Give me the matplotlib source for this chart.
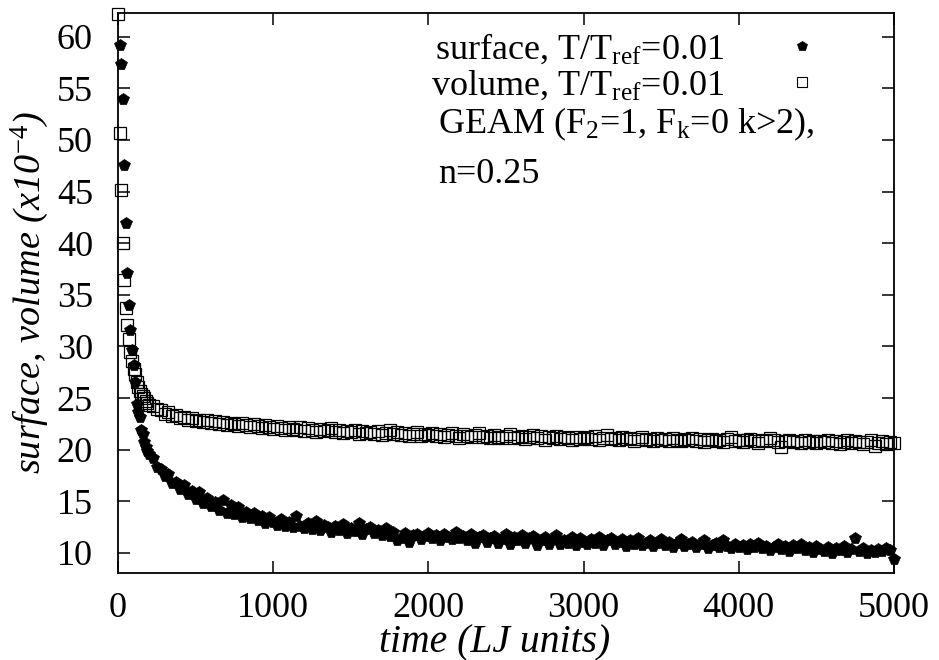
import numpy as np
import matplotlib
matplotlib.use("Agg")
import matplotlib.pyplot as plt
from matplotlib.lines import Line2D

plt.rcParams['font.family'] = ['Liberation Serif', 'DejaVu Serif']
plt.rcParams['mathtext.fontset'] = 'custom'
plt.rcParams['mathtext.rm'] = 'Liberation Serif'
plt.rcParams['mathtext.it'] = 'Liberation Serif:italic'
plt.rcParams['mathtext.bf'] = 'Liberation Serif:bold'

# time grid (LJ units): fine sampling during the fast initial drop, coarser afterwards
time_early = np.arange(0, 201, 10)
time_late = np.arange(225, 5001, 25)
time = np.concatenate([time_early, time_late])

# surface (x1e-4), T/Tref = 0.01
surface_early = [np.nan, 59.2, 57.4, 54.0, 47.6, 42.0, 37.1, 34.0, 31.6, 29.7,
                 28.2, 26.6, 24.4, 23.6, 23.2, 21.9, 21.5, 20.7, 20.3, 19.9, 19.6]
surface_late = [
    19.2, 18.3, 18.1, 17.4, 17.6, 16.8, 16.9, 16.2,
    16.6, 15.7, 16.0, 15.2, 15.9, 14.8, 15.3, 14.5,
    14.9, 14.2, 15.1, 13.9, 14.6, 13.8, 14.4, 13.5,
    14.0, 13.4, 13.9, 13.2, 13.6, 12.9, 13.5, 13.0,
    12.7, 13.3, 12.6, 13.0, 12.5, 13.6, 12.6, 12.4,
    12.9, 12.3, 13.1, 12.2, 12.7, 12.5, 12.0, 12.6,
    12.2, 12.8, 11.9, 12.4, 12.1, 12.9, 11.8, 12.3,
    12.5, 11.9, 12.2, 11.7, 12.4, 11.6, 12.0, 11.2,
    11.4, 11.9, 11.1, 11.7, 11.8, 11.3, 11.6, 11.9,
    11.4, 11.7, 11.2, 11.8, 11.5, 11.3, 12.0, 11.4,
    11.6, 11.2, 11.8, 11.0, 11.5, 11.7, 11.1, 11.4,
    11.6, 11.0, 11.3, 11.8, 10.9, 11.5, 11.2, 11.7,
    11.0, 11.4, 11.6, 10.8, 11.2, 11.5, 10.9, 11.3,
    11.7, 10.9, 11.2, 11.0, 11.5, 10.8, 11.4, 11.1,
    10.9, 11.3, 11.0, 11.5, 10.8, 11.2, 11.4, 10.9,
    11.1, 11.3, 10.7, 11.2, 10.9, 11.4, 10.8, 11.0,
    11.2, 10.7, 11.0, 11.3, 10.8, 11.1, 10.6, 11.0,
    11.3, 10.7, 10.9, 11.1, 10.6, 10.9, 11.2, 10.5,
    10.8, 11.0, 10.6, 11.2, 10.7, 10.5, 10.9, 10.6,
    10.8, 10.4, 10.9, 10.6, 11.0, 10.5, 10.7, 10.3,
    10.6, 10.9, 10.4, 10.7, 10.2, 10.8, 10.5, 10.9,
    10.3, 10.6, 10.1, 10.7, 10.4, 10.2, 10.6, 10.0,
    10.5, 10.3, 10.7, 10.1, 10.4, 11.4, 10.2, 10.5,
    10.0, 10.3, 10.1, 10.4, 10.2, 10.5, 10.3, 9.4,
]

# volume (x1e-4), T/Tref = 0.01
volume_early = [62.2, 50.7, 45.2, 40.0, 36.4, 33.7, 32.1, 30.7, 29.5, 28.6,
                27.8, 27.3, 26.6, 26.1, 25.7, 25.4, 25.2, 25.0, 24.7, 24.5, 24.3]
volume_late = [
    24.2, 23.9, 23.8, 23.5, 23.6, 23.3, 23.4, 23.1,
    23.2, 22.9, 23.1, 22.8, 22.9, 22.7, 22.9, 22.6,
    22.8, 22.5, 22.7, 22.4, 22.6, 22.5, 22.3, 22.6,
    22.4, 22.2, 22.5, 22.3, 22.1, 22.4, 22.2, 22.0,
    22.3, 22.1, 21.9, 22.2, 22.0, 21.9, 22.2, 21.8,
    22.1, 21.9, 21.7, 22.0, 21.8, 21.9, 22.1, 21.7,
    21.9, 21.6, 21.8, 21.7, 21.9, 21.5, 21.8, 21.6,
    21.7, 21.5, 21.8, 21.4, 21.6, 21.9, 21.5, 21.7,
    21.4, 21.6, 21.3, 21.5, 21.7, 21.3, 21.5, 21.4,
    21.6, 21.3, 21.5, 21.2, 21.4, 21.6, 21.3, 21.1,
    21.5, 21.3, 21.2, 21.4, 21.6, 21.2, 21.3, 21.1,
    21.4, 21.2, 21.1, 21.3, 21.5, 21.1, 21.2, 21.3,
    21.0, 21.2, 21.4, 21.1, 21.3, 20.9, 21.2, 21.1,
    21.3, 21.0, 21.2, 21.1, 20.9, 21.2, 21.0, 21.1,
    21.2, 21.0, 21.3, 20.9, 21.1, 21.4, 21.0, 21.1,
    20.9, 21.2, 21.0, 21.1, 20.8, 21.0, 21.2, 20.9,
    21.0, 20.8, 21.1, 20.9, 21.0, 20.8, 21.1, 20.9,
    20.8, 21.0, 20.9, 21.1, 20.8, 21.0, 20.7, 20.9,
    21.0, 20.8, 20.9, 20.7, 21.0, 21.2, 20.8, 20.9,
    20.7, 20.9, 21.0, 20.8, 20.6, 20.9, 20.8, 21.1,
    20.9, 20.7, 20.3, 20.8, 20.9, 20.7, 20.8, 20.6,
    20.9, 20.7, 20.8, 20.6, 20.8, 20.7, 20.9, 20.6,
    20.8, 20.5, 20.7, 20.9, 20.6, 20.8, 20.7, 20.5,
    20.7, 20.9, 20.4, 20.6, 20.8, 20.5, 20.7, 20.6,
]

surface = np.array(surface_early + surface_late)
volume = np.array(volume_early + volume_late)

x_ticks = [0, 1000, 2000, 3000, 4000, 5000]
y_ticks = [10, 15, 20, 25, 30, 35, 40, 45, 50, 55, 60]

surface_label = r'surface, T/T$_{\mathrm{ref}}$=0.01'
volume_label = r'volume, T/T$_{\mathrm{ref}}$=0.01'
model_text = r'GEAM (F$_{\mathrm{2}}$=1, F$_{\mathrm{k}}$=0 k>2),'
density_text = 'n=0.25'

FS = 26
W, H = 939, 660

fig = plt.figure(figsize=(W / 100, H / 100), dpi=100)
ax = fig.add_axes([118 / W, 1 - 573 / H, 776 / W, 560 / H])

ax.plot(time, surface, linestyle='none', marker='p', markersize=8.5,
        color='black', markeredgewidth=0.5, clip_on=False, zorder=3)
ax.plot(time, volume, linestyle='none', marker='s', markersize=8.0,
        markerfacecolor='none', markeredgecolor='black', markeredgewidth=0.9,
        clip_on=False, zorder=4)

ax.set_xlim(0, 5000)
ax.set_ylim(8.05, 62.3)
ax.set_xticks(x_ticks)
ax.set_yticks(y_ticks)
ax.tick_params(axis='both', which='major', direction='in', length=8.5,
               width=1.1, labelsize=FS, top=True, right=True)
ax.tick_params(axis='x', pad=14)
ax.tick_params(axis='y', pad=18)
for sp in ax.spines.values():
    sp.set_linewidth(1.3)

ax.set_xlabel('time (LJ units)', fontsize=28.5, fontstyle='italic')
ax.xaxis.set_label_coords((495 - 118) / 776, (573 - 624) / 560)
ax.set_ylabel(r'surface, volume (x10$^{\mathit{-4}}$)', fontsize=27.5,
              fontstyle='italic', labelpad=4)

handles = [
    Line2D([], [], linestyle='none', marker='p', markersize=7, color='black',
           markeredgewidth=0.5),
    Line2D([], [], linestyle='none', marker='s', markersize=7,
           markerfacecolor='none', markeredgecolor='black', markeredgewidth=0.8),
]
ax.legend(handles, [surface_label, volume_label], loc='upper left',
          bbox_to_anchor=(0.380, 0.998), frameon=False, fontsize=FS,
          markerfirst=False, handlelength=2.0, handletextpad=1.15,
          labelspacing=0.08, borderpad=0.0)

fig.text(438 / W, 1 - 133 / H, model_text, fontsize=FS, va='baseline')
fig.text(438 / W, 1 - 183 / H, density_text, fontsize=FS, va='baseline')

fig.savefig('out.png', dpi=100)
